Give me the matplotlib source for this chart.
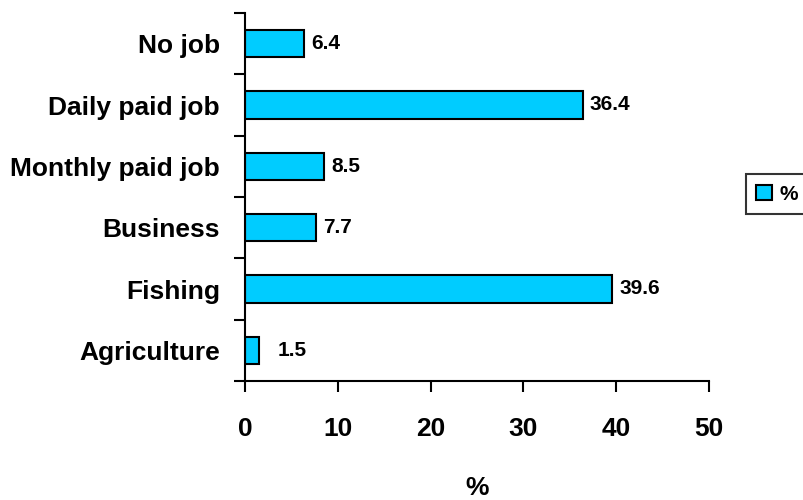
import matplotlib
matplotlib.use("Agg")
import matplotlib.pyplot as plt
from matplotlib.ticker import FixedLocator

# Occupation of respondents (%), listed bottom to top
categories = ["Agriculture", "Fishing", "Business", "Monthly paid job", "Daily paid job", "No job"]
values = [1.5, 39.6, 7.7, 8.5, 36.4, 6.4]
x_ticks = [0, 10, 20, 30, 40, 50]

plt.rcParams["font.family"] = ["Liberation Sans Narrow", "Liberation Sans", "DejaVu Sans"]
plt.rcParams["font.weight"] = "bold"

fig = plt.figure(figsize=(8.04, 5.0), dpi=100)
ax = fig.add_axes([245 / 804, 1 - 381 / 500, (709 - 245) / 804, (381 - 13) / 500])

pos = list(range(len(categories)))
bars = ax.barh(pos, values, height=0.45, color="#00CCFF", edgecolor="black",
               linewidth=1.5, label="%", zorder=2)

for p, v in zip(pos, values):
    ax.annotate(f"{v}", xy=(v, p), xytext=(7 if v > 3 else 19, 0),
                textcoords="offset pixels",
                ha="left", va="center", fontsize=15, fontweight="bold")

ax.set_xlim(0, 50)
ax.set_ylim(-0.5, len(categories) - 0.5)
ax.set_xticks(x_ticks)
ax.set_xticklabels([str(t) for t in x_ticks], fontsize=19, fontweight="bold")
ax.tick_params(axis="x", direction="out", length=8, width=1.5, pad=18)

# Category labels at bar centres, tick marks at category boundaries
ax.set_yticks(pos)
ax.set_yticklabels(categories, fontsize=19, fontweight="bold")
ax.tick_params(axis="y", which="major", length=0, pad=18)
ax.yaxis.set_minor_locator(FixedLocator([i - 0.5 for i in range(len(categories) + 1)]))
ax.tick_params(axis="y", which="minor", direction="out", length=8, width=1.5)

for side in ("top", "right"):
    ax.spines[side].set_visible(False)
for side in ("left", "bottom"):
    ax.spines[side].set_linewidth(1.5)

ax.set_xlabel("%", fontsize=19, fontweight="bold", labelpad=25)

leg = fig.legend(handles=[bars], labels=["%"], loc="center left",
                 bbox_to_anchor=(746 / 804, 1 - 194 / 500), frameon=True,
                 fancybox=False, edgecolor="black", fontsize=15,
                 handlelength=0.75, handleheight=0.75, handletextpad=0.35,
                 borderpad=0.5, borderaxespad=0)
leg.get_frame().set_linewidth(1.5)
for t in leg.get_texts():
    t.set_fontweight("bold")

fig.savefig("out.png", dpi=100)
